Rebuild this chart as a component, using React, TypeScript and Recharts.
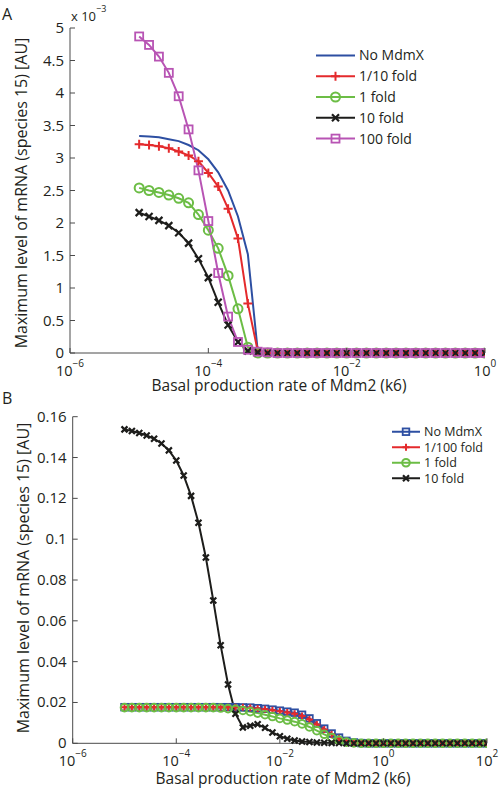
import React from "react";
import { LineChart, Line, XAxis, YAxis, Legend } from "recharts";

// sampling grid of k6 (log-spaced), panel A: 1e-5..1e0, panel B: 1e-5..1e2
const gridA = Array.from({ length: 36 }, (_, i) => 10 ** (-5 + (i * 5) / 35));
const gridB = Array.from({ length: 50 }, (_, i) => 10 ** (-5 + (i * 7) / 49));

// panel A values, in units of 1e-3
const noMdmXA = [3.34, 3.33, 3.32, 3.29, 3.26, 3.2, 3.12, 2.98, 2.78, 2.5, 2.1, 1.52, 0.03, 0, 0, 0, 0, 0, 0, 0, 0, 0, 0, 0, 0, 0, 0, 0, 0, 0, 0, 0, 0, 0, 0, 0];
const tenthFoldA = [3.21, 3.2, 3.18, 3.15, 3.1, 3.04, 2.95, 2.77, 2.56, 2.22, 1.76, 0.76, 0.03, 0, 0, 0, 0, 0, 0, 0, 0, 0, 0, 0, 0, 0, 0, 0, 0, 0, 0, 0, 0, 0, 0, 0];
const oneFoldA = [2.54, 2.5, 2.47, 2.43, 2.38, 2.31, 2.13, 1.89, 1.61, 1.19, 0.68, 0.09, 0, 0, 0, 0, 0, 0, 0, 0, 0, 0, 0, 0, 0, 0, 0, 0, 0, 0, 0, 0, 0, 0, 0, 0];
const tenFoldA = [2.16, 2.1, 2.04, 1.96, 1.85, 1.69, 1.45, 1.16, 0.78, 0.43, 0.17, 0.03, 0.01, 0, 0, 0, 0, 0, 0, 0, 0, 0, 0, 0, 0, 0, 0, 0, 0, 0, 0, 0, 0, 0, 0, 0];
const hundredFoldA = [4.87, 4.74, 4.56, 4.31, 3.95, 3.44, 2.81, 2.03, 1.23, 0.56, 0.17, 0.05, 0.02, 0.01, 0, 0, 0, 0, 0, 0, 0, 0, 0, 0, 0, 0, 0, 0, 0, 0, 0, 0, 0, 0, 0, 0];

// panel B values
const noMdmXB = [
  0.0177, 0.0177, 0.0177, 0.0177, 0.0177, 0.0177, 0.0177, 0.0177, 0.0177, 0.0177,
  0.0177, 0.0177, 0.0177, 0.0177, 0.0177, 0.0177, 0.0176, 0.0175, 0.0172, 0.0169,
  0.0165, 0.016, 0.0155, 0.015, 0.014, 0.0122, 0.0098, 0.0072, 0.0048, 0.0028,
  0.0012, 0.0004, 0.0001, 0, 0, 0, 0, 0, 0, 0,
  0, 0, 0, 0, 0, 0, 0, 0, 0, 0,
];
const hundredthFoldB = [
  0.0176, 0.0176, 0.0176, 0.0176, 0.0176, 0.0176, 0.0176, 0.0176, 0.0176, 0.0176,
  0.0176, 0.0176, 0.0176, 0.0176, 0.0176, 0.0176, 0.0176, 0.0174, 0.0171, 0.0167,
  0.0162, 0.0157, 0.0151, 0.0145, 0.0134, 0.0116, 0.0092, 0.0067, 0.0044, 0.0025,
  0.001, 0.0003, 0.0001, 0, 0, 0, 0, 0, 0, 0,
  0, 0, 0, 0, 0, 0, 0, 0, 0, 0,
];
const oneFoldB = [
  0.0175, 0.0175, 0.0175, 0.0175, 0.0175, 0.0175, 0.0175, 0.0175, 0.0175, 0.0175,
  0.0175, 0.0175, 0.0175, 0.0173, 0.017, 0.0166, 0.0161, 0.0155, 0.0148, 0.014,
  0.0131, 0.0122, 0.0114, 0.0106, 0.0095, 0.008, 0.0062, 0.0044, 0.0028, 0.0015,
  0.0006, 0.0002, 0, 0, 0, 0, 0, 0, 0, 0,
  0, 0, 0, 0, 0, 0, 0, 0, 0, 0,
];
const tenFoldB = [
  0.1538, 0.153, 0.152, 0.1508, 0.1492, 0.1469, 0.1435, 0.1385, 0.1312, 0.1212,
  0.108, 0.091, 0.07, 0.048, 0.0288, 0.0145, 0.0078, 0.0086, 0.0093, 0.0076,
  0.0053, 0.0035, 0.0022, 0.0014, 0.0009, 0.0006, 0.0004, 0.0003, 0.0002, 0.0001,
  0, 0, 0, 0, 0, 0, 0, 0, 0, 0,
  0, 0, 0, 0, 0, 0, 0, 0, 0, 0,
];

const xTicksA = [1e-6, 1e-4, 1e-2, 1];
const xTicksB = [1e-6, 1e-4, 1e-2, 1, 100];
const yTicksA = [0, 0.5, 1, 1.5, 2, 2.5, 3, 3.5, 4, 4.5, 5];
const yTicksB = [0, 0.02, 0.04, 0.06, 0.08, 0.1, 0.12, 0.14, 0.16];

const FONT = "'Open Sans', 'Noto Sans', sans-serif";
const AXIS = "#4a4a4a";
const TXT = "#231f20";

const BLUE = "#2d4fa2";
const RED = "#e42a2c";
const GREEN = "#6cbd45";
const BLACK = "#1d1d1b";
const MAGENTA = "#b854b4";

type Shape = "none" | "plus" | "circle" | "x" | "square";

function Marker({ cx, cy, shape, color, size }: { cx?: number; cy?: number; shape: Shape; color: string; size: number }) {
  if (cx == null || cy == null || shape === "none") return null;
  const s = size;
  if (shape === "plus")
    return <path d={`M${cx - s},${cy}H${cx + s}M${cx},${cy - s}V${cy + s}`} stroke={color} strokeWidth={2} fill="none" />;
  if (shape === "x")
    return (
      <path
        d={`M${cx - s},${cy - s}L${cx + s},${cy + s}M${cx - s},${cy + s}L${cx + s},${cy - s}`}
        stroke={color}
        strokeWidth={2.2}
        fill="none"
      />
    );
  if (shape === "circle") return <circle cx={cx} cy={cy} r={s} stroke={color} strokeWidth={2} fill="none" />;
  return <rect x={cx - s} y={cy - s} width={2 * s} height={2 * s} stroke={color} strokeWidth={1.8} fill="none" />;
}

const powLabel = (v: number) => {
  const e = Math.round(Math.log10(v));
  return e < 0 ? `\u2212${-e}` : `${e}`;
};

function BottomTick(props: any) {
  const { x, y, payload } = props;
  return (
    <g>
      <line x1={x} x2={x} y1={y} y2={y - 5} stroke={AXIS} />
      <text x={x} y={y + 23} textAnchor="middle" fontSize={14.5} fill={TXT} fontFamily={FONT}>
        10
        <tspan dy={-9} fontSize={10}>
          {powLabel(payload.value)}
        </tspan>
      </text>
    </g>
  );
}

function TopTick(props: any) {
  const { x, y } = props;
  return <line x1={x} x2={x} y1={y} y2={y + 5} stroke={AXIS} />;
}

function LeftTick(props: any) {
  const { x, y, payload } = props;
  return (
    <g>
      <line x1={x} x2={x + 5} y1={y} y2={y} stroke={AXIS} />
      <text x={x - 6} y={y + 5} textAnchor="end" fontSize={15} fill={TXT} fontFamily={FONT}>
        {payload.value}
      </text>
    </g>
  );
}

function RightTick(props: any) {
  const { x, y } = props;
  return <line x1={x} x2={x - 5} y1={y} y2={y} stroke={AXIS} />;
}

type Series = { key: string; name: string; color: string; shape: Shape; size: number };

const seriesA: Series[] = [
  { key: "noMdmX", name: "No MdmX", color: BLUE, shape: "none", size: 0 },
  { key: "tenth", name: "1/10 fold", color: RED, shape: "plus", size: 4.5 },
  { key: "one", name: "1 fold", color: GREEN, shape: "circle", size: 4.5 },
  { key: "ten", name: "10 fold", color: BLACK, shape: "x", size: 3.5 },
  { key: "hundred", name: "100 fold", color: MAGENTA, shape: "square", size: 4 },
];

const seriesB: Series[] = [
  { key: "noMdmX", name: "No MdmX", color: BLUE, shape: "square", size: 3.3 },
  { key: "hundredth", name: "1/100 fold", color: RED, shape: "plus", size: 3.5 },
  { key: "one", name: "1 fold", color: GREEN, shape: "circle", size: 3.8 },
  { key: "ten", name: "10 fold", color: BLACK, shape: "x", size: 3 },
];

const dataA = gridA.map((k, i) => ({
  k,
  noMdmX: noMdmXA[i],
  tenth: tenthFoldA[i],
  one: oneFoldA[i],
  ten: tenFoldA[i],
  hundred: hundredFoldA[i],
}));

const dataB = gridB.map((k, i) => ({
  k,
  noMdmX: noMdmXB[i],
  hundredth: hundredthFoldB[i],
  one: oneFoldB[i],
  ten: tenFoldB[i],
}));

function LegendBox({ series, rowH, fontSize, lineLen }: { series: Series[]; rowH: number; fontSize: number; lineLen: number }) {
  return (
    <svg width={160} height={series.length * rowH + 4} style={{ display: "block" }}>
      {series.map((s, i) => {
        const cy = i * rowH + rowH / 2;
        return (
          <g key={s.key}>
            <line x1={0} x2={lineLen} y1={cy} y2={cy} stroke={s.color} strokeWidth={2} />
            <Marker cx={lineLen / 2} cy={cy} shape={s.shape} color={s.color} size={s.size} />
            <text x={lineLen + 4} y={cy + fontSize * 0.36} fontSize={fontSize} fill={TXT} fontFamily={FONT}>
              {s.name}
            </text>
          </g>
        );
      })}
    </svg>
  );
}

function lines(series: Series[]) {
  return series.map((s) => (
    <Line
      key={s.key}
      dataKey={s.key}
      name={s.name}
      type="linear"
      stroke={s.color}
      strokeWidth={2}
      isAnimationActive={false}
      dot={(p: any) => <Marker key={`${s.key}-${p.index}`} cx={p.cx} cy={p.cy} shape={s.shape} color={s.color} size={s.size} />}
      activeDot={false}
    />
  ));
}

export default function App() {
  return (
    <div style={{ position: "absolute", left: 0, top: 0, width: 502, height: 792, background: "#fff", fontFamily: FONT }}>
      <div style={{ position: "absolute", left: 0, top: 0 }}>
        <LineChart width={502} height={392} data={dataA} margin={{ top: 28, right: 17, bottom: 0, left: 0 }}>
          <XAxis
            dataKey="k"
            type="number"
            scale="log"
            domain={[1e-6, 1]}
            ticks={xTicksA}
            interval={0}
            height={39}
            tickSize={0}
            tickMargin={0}
            stroke={AXIS}
            tick={<BottomTick />}
            allowDataOverflow
          />
          <XAxis xAxisId="top" orientation="top" dataKey="k" type="number" scale="log" domain={[1e-6, 1]} ticks={xTicksA} interval={0} height={0} tickSize={0} tickMargin={0} stroke={AXIS} tick={<TopTick />} allowDataOverflow />
          <YAxis domain={[0, 5]} ticks={yTicksA} interval={0} width={70} tickSize={0} tickMargin={0} stroke={AXIS} tick={<LeftTick />} />
          <YAxis yAxisId="right" orientation="right" domain={[0, 5]} ticks={yTicksA} interval={0} width={0} tickSize={0} tickMargin={0} stroke={AXIS} tick={<RightTick />} />
          <Legend
            layout="vertical"
            align="center"
            verticalAlign="middle"
            wrapperStyle={{ position: "absolute", left: 316, top: 45, width: 160 }}
            content={() => <LegendBox series={seriesA} rowH={20.8} fontSize={14} lineLen={39} />}
          />
          {lines(seriesA)}
        </LineChart>
      </div>
      <div style={{ position: "absolute", left: 0, top: 392 }}>
        <LineChart width={502} height={400} data={dataB} margin={{ top: 24.7, right: 15, bottom: 0, left: 0 }}>
          <XAxis
            dataKey="k"
            type="number"
            scale="log"
            domain={[1e-6, 100]}
            ticks={xTicksB}
            interval={0}
            height={48.7}
            tickSize={0}
            tickMargin={0}
            stroke={AXIS}
            tick={<BottomTick />}
            allowDataOverflow
          />
          <XAxis xAxisId="top" orientation="top" dataKey="k" type="number" scale="log" domain={[1e-6, 100]} ticks={xTicksB} interval={0} height={0} tickSize={0} tickMargin={0} stroke={AXIS} tick={<TopTick />} allowDataOverflow />
          <YAxis domain={[0, 0.16]} ticks={yTicksB} interval={0} width={72.7} tickSize={0} tickMargin={0} stroke={AXIS} tick={<LeftTick />} />
          <YAxis yAxisId="right" orientation="right" domain={[0, 0.16]} ticks={yTicksB} interval={0} width={0} tickSize={0} tickMargin={0} stroke={AXIS} tick={<RightTick />} />
          <Legend
            layout="vertical"
            align="center"
            verticalAlign="middle"
            wrapperStyle={{ position: "absolute", left: 392, top: 32, width: 160 }}
            content={() => <LegendBox series={seriesB} rowH={15.5} fontSize={12.5} lineLen={28} />}
          />
          {lines(seriesB)}
        </LineChart>
      </div>
      <svg width={502} height={792} style={{ position: "absolute", left: 0, top: 0, pointerEvents: "none" }}>
        <g fontFamily={FONT} fill={TXT}>
          <text x={2} y={20} fontSize={16}>A</text>
          <text x={2} y={404} fontSize={16}>B</text>
          <text x={71} y={21} fontSize={13}>
            x 10
            <tspan dy={-9} fontSize={9}>{"\u22123"}</tspan>
          </text>
          <text x={279} y={391} fontSize={15.5} textAnchor="middle">Basal production rate of Mdm2 (k6)</text>
          <text x={283} y={784} fontSize={15.5} textAnchor="middle">Basal production rate of Mdm2 (k6)</text>
          <text transform="translate(27,193) rotate(-90)" fontSize={16} textAnchor="middle">
            Maximum level of mRNA (species 15) [AU]
          </text>
          <text transform="translate(29,578) rotate(-90)" fontSize={16} textAnchor="middle">
            Maximum level of mRNA (species 15) [AU]
          </text>
        </g>
      </svg>
    </div>
  );
}
